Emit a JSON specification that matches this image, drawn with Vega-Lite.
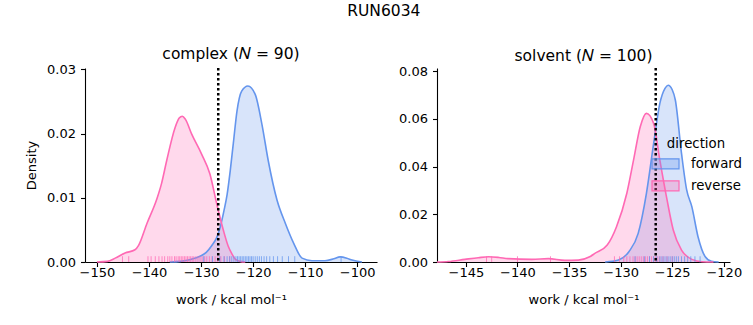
{
  "$schema": "https://vega.github.io/schema/vega-lite/v6.json",
  "padding": {"left": 25, "top": 4, "right": 0, "bottom": 0},
  "title": {"text": "RUN6034", "fontSize": 15.5, "fontWeight": "normal", "anchor": "middle", "color": "black", "offset": 27},
  "config": {
    "font": "DejaVu Sans",
    "view": {"stroke": null},
    "axis": {"grid": false, "domainColor": "black", "domainWidth": 1.1, "tickColor": "black", "tickWidth": 1.1, "labelColor": "black", "titleColor": "black", "labelFontSize": 13, "titleFontSize": 13, "titleFontWeight": "normal", "tickSize": 4.5},
    "axisX": {"labelPadding": 0, "titlePadding": 14},
    "axisY": {"labelPadding": 5, "titlePadding": 8},
    "title": {"fontSize": 15.5, "fontWeight": "normal", "color": "black", "offset": 1}
  },
  "datasets": {
    "curves": [
      {"panel": "complex", "direction": "forward", "work": -136, "density": 0},
      {"panel": "complex", "direction": "forward", "work": -134, "density": 0.0001},
      {"panel": "complex", "direction": "forward", "work": -132, "density": 0.0004},
      {"panel": "complex", "direction": "forward", "work": -130.2, "density": 0.0009},
      {"panel": "complex", "direction": "forward", "work": -129, "density": 0.0015},
      {"panel": "complex", "direction": "forward", "work": -128, "density": 0.0025},
      {"panel": "complex", "direction": "forward", "work": -127, "density": 0.0038},
      {"panel": "complex", "direction": "forward", "work": -126.3, "density": 0.0055},
      {"panel": "complex", "direction": "forward", "work": -125.6, "density": 0.008},
      {"panel": "complex", "direction": "forward", "work": -125, "density": 0.0105},
      {"panel": "complex", "direction": "forward", "work": -124.4, "density": 0.0142},
      {"panel": "complex", "direction": "forward", "work": -123.8, "density": 0.0185},
      {"panel": "complex", "direction": "forward", "work": -123.1, "density": 0.0235},
      {"panel": "complex", "direction": "forward", "work": -122.2, "density": 0.0266},
      {"panel": "complex", "direction": "forward", "work": -121, "density": 0.0274},
      {"panel": "complex", "direction": "forward", "work": -119.6, "density": 0.0261},
      {"panel": "complex", "direction": "forward", "work": -118.3, "density": 0.0214},
      {"panel": "complex", "direction": "forward", "work": -117.1, "density": 0.0158},
      {"panel": "complex", "direction": "forward", "work": -115.4, "density": 0.0096},
      {"panel": "complex", "direction": "forward", "work": -113.8, "density": 0.006},
      {"panel": "complex", "direction": "forward", "work": -112.2, "density": 0.0029},
      {"panel": "complex", "direction": "forward", "work": -110.6, "density": 0.0006},
      {"panel": "complex", "direction": "forward", "work": -108.7, "density": 0.0002},
      {"panel": "complex", "direction": "forward", "work": -106.2, "density": 0.0002},
      {"panel": "complex", "direction": "forward", "work": -104.5, "density": 0.0005},
      {"panel": "complex", "direction": "forward", "work": -103.3, "density": 0.0008},
      {"panel": "complex", "direction": "forward", "work": -102, "density": 0.0006},
      {"panel": "complex", "direction": "forward", "work": -101, "density": 0.0003},
      {"panel": "complex", "direction": "forward", "work": -99.1, "density": 0},
      {"panel": "complex", "direction": "reverse", "work": -150, "density": 0},
      {"panel": "complex", "direction": "reverse", "work": -148, "density": 0.0001},
      {"panel": "complex", "direction": "reverse", "work": -146.5, "density": 0.0006},
      {"panel": "complex", "direction": "reverse", "work": -144.6, "density": 0.0014},
      {"panel": "complex", "direction": "reverse", "work": -142.7, "density": 0.0019},
      {"panel": "complex", "direction": "reverse", "work": -142, "density": 0.0026},
      {"panel": "complex", "direction": "reverse", "work": -140.4, "density": 0.006},
      {"panel": "complex", "direction": "reverse", "work": -138.5, "density": 0.0098},
      {"panel": "complex", "direction": "reverse", "work": -137.6, "density": 0.0122},
      {"panel": "complex", "direction": "reverse", "work": -136.6, "density": 0.0158},
      {"panel": "complex", "direction": "reverse", "work": -135, "density": 0.0209},
      {"panel": "complex", "direction": "reverse", "work": -134.2, "density": 0.0224},
      {"panel": "complex", "direction": "reverse", "work": -133.6, "density": 0.0227},
      {"panel": "complex", "direction": "reverse", "work": -133, "density": 0.0222},
      {"panel": "complex", "direction": "reverse", "work": -131.8, "density": 0.0199},
      {"panel": "complex", "direction": "reverse", "work": -129.9, "density": 0.0168},
      {"panel": "complex", "direction": "reverse", "work": -128.3, "density": 0.0137},
      {"panel": "complex", "direction": "reverse", "work": -127, "density": 0.0091},
      {"panel": "complex", "direction": "reverse", "work": -125.7, "density": 0.0049},
      {"panel": "complex", "direction": "reverse", "work": -124.8, "density": 0.0025},
      {"panel": "complex", "direction": "reverse", "work": -124.1, "density": 0.0013},
      {"panel": "complex", "direction": "reverse", "work": -123.4, "density": 0.0004},
      {"panel": "complex", "direction": "reverse", "work": -122.5, "density": 0.0001},
      {"panel": "complex", "direction": "reverse", "work": -121.5, "density": 0},
      {"panel": "solvent", "direction": "forward", "work": -131.5, "density": 0},
      {"panel": "solvent", "direction": "forward", "work": -130.8, "density": 0.0003},
      {"panel": "solvent", "direction": "forward", "work": -130.2, "density": 0.0008},
      {"panel": "solvent", "direction": "forward", "work": -129.2, "density": 0.0043},
      {"panel": "solvent", "direction": "forward", "work": -128.3, "density": 0.012},
      {"panel": "solvent", "direction": "forward", "work": -127.5, "density": 0.0288},
      {"panel": "solvent", "direction": "forward", "work": -126.8, "density": 0.0497},
      {"panel": "solvent", "direction": "forward", "work": -126.2, "density": 0.0665},
      {"panel": "solvent", "direction": "forward", "work": -125.7, "density": 0.0728},
      {"panel": "solvent", "direction": "forward", "work": -125.4, "density": 0.0741},
      {"panel": "solvent", "direction": "forward", "work": -125, "density": 0.0722},
      {"panel": "solvent", "direction": "forward", "work": -124.7, "density": 0.0679},
      {"panel": "solvent", "direction": "forward", "work": -124.1, "density": 0.0455},
      {"panel": "solvent", "direction": "forward", "work": -123.6, "density": 0.0302},
      {"panel": "solvent", "direction": "forward", "work": -123.1, "density": 0.0232},
      {"panel": "solvent", "direction": "forward", "work": -122.5, "density": 0.0106},
      {"panel": "solvent", "direction": "forward", "work": -121.8, "density": 0.0022},
      {"panel": "solvent", "direction": "forward", "work": -121.2, "density": 0.0003},
      {"panel": "solvent", "direction": "forward", "work": -120.5, "density": 0},
      {"panel": "solvent", "direction": "reverse", "work": -147.8, "density": 0},
      {"panel": "solvent", "direction": "reverse", "work": -146.7, "density": 0.0002},
      {"panel": "solvent", "direction": "reverse", "work": -145.1, "density": 0.0011},
      {"panel": "solvent", "direction": "reverse", "work": -143.8, "density": 0.0018},
      {"panel": "solvent", "direction": "reverse", "work": -142.8, "density": 0.0022},
      {"panel": "solvent", "direction": "reverse", "work": -141.8, "density": 0.0019},
      {"panel": "solvent", "direction": "reverse", "work": -140.9, "density": 0.0014},
      {"panel": "solvent", "direction": "reverse", "work": -138.6, "density": 0.0011},
      {"panel": "solvent", "direction": "reverse", "work": -137, "density": 0.0014},
      {"panel": "solvent", "direction": "reverse", "work": -135.4, "density": 0.0007},
      {"panel": "solvent", "direction": "reverse", "work": -134.1, "density": 0.0008},
      {"panel": "solvent", "direction": "reverse", "work": -133, "density": 0.0022},
      {"panel": "solvent", "direction": "reverse", "work": -132.5, "density": 0.0036},
      {"panel": "solvent", "direction": "reverse", "work": -131.3, "density": 0.0071},
      {"panel": "solvent", "direction": "reverse", "work": -130.4, "density": 0.0148},
      {"panel": "solvent", "direction": "reverse", "work": -129.4, "density": 0.0288},
      {"panel": "solvent", "direction": "reverse", "work": -128.75, "density": 0.0427},
      {"panel": "solvent", "direction": "reverse", "work": -128.1, "density": 0.0567},
      {"panel": "solvent", "direction": "reverse", "work": -127.5, "density": 0.0623},
      {"panel": "solvent", "direction": "reverse", "work": -126.8, "density": 0.0581},
      {"panel": "solvent", "direction": "reverse", "work": -126.2, "density": 0.0427},
      {"panel": "solvent", "direction": "reverse", "work": -125.5, "density": 0.026},
      {"panel": "solvent", "direction": "reverse", "work": -124.9, "density": 0.0134},
      {"panel": "solvent", "direction": "reverse", "work": -124.1, "density": 0.005},
      {"panel": "solvent", "direction": "reverse", "work": -123.1, "density": 0.0011},
      {"panel": "solvent", "direction": "reverse", "work": -122.1, "density": 0.0001},
      {"panel": "solvent", "direction": "reverse", "work": -121, "density": 0}
    ],
    "rug": [
      {"panel": "complex", "direction": "reverse", "work": -145.1},
      {"panel": "complex", "direction": "reverse", "work": -143.9},
      {"panel": "complex", "direction": "reverse", "work": -140.2},
      {"panel": "complex", "direction": "reverse", "work": -139.6},
      {"panel": "complex", "direction": "reverse", "work": -138.8},
      {"panel": "complex", "direction": "reverse", "work": -138.1},
      {"panel": "complex", "direction": "reverse", "work": -137.5},
      {"panel": "complex", "direction": "reverse", "work": -137.0},
      {"panel": "complex", "direction": "reverse", "work": -136.4},
      {"panel": "complex", "direction": "reverse", "work": -136.0},
      {"panel": "complex", "direction": "reverse", "work": -135.6},
      {"panel": "complex", "direction": "reverse", "work": -135.1},
      {"panel": "complex", "direction": "reverse", "work": -134.8},
      {"panel": "complex", "direction": "reverse", "work": -134.4},
      {"panel": "complex", "direction": "reverse", "work": -134.1},
      {"panel": "complex", "direction": "reverse", "work": -133.8},
      {"panel": "complex", "direction": "reverse", "work": -133.5},
      {"panel": "complex", "direction": "reverse", "work": -133.2},
      {"panel": "complex", "direction": "reverse", "work": -132.9},
      {"panel": "complex", "direction": "reverse", "work": -132.6},
      {"panel": "complex", "direction": "reverse", "work": -132.3},
      {"panel": "complex", "direction": "reverse", "work": -132.0},
      {"panel": "complex", "direction": "reverse", "work": -131.7},
      {"panel": "complex", "direction": "reverse", "work": -131.4},
      {"panel": "complex", "direction": "reverse", "work": -131.0},
      {"panel": "complex", "direction": "reverse", "work": -130.6},
      {"panel": "complex", "direction": "reverse", "work": -130.2},
      {"panel": "complex", "direction": "reverse", "work": -129.8},
      {"panel": "complex", "direction": "reverse", "work": -129.3},
      {"panel": "complex", "direction": "reverse", "work": -128.9},
      {"panel": "complex", "direction": "reverse", "work": -128.4},
      {"panel": "complex", "direction": "reverse", "work": -127.9},
      {"panel": "complex", "direction": "reverse", "work": -127.3},
      {"panel": "complex", "direction": "reverse", "work": -126.8},
      {"panel": "complex", "direction": "reverse", "work": -126.2},
      {"panel": "complex", "direction": "reverse", "work": -125.5},
      {"panel": "complex", "direction": "reverse", "work": -124.5},
      {"panel": "complex", "direction": "forward", "work": -129.5},
      {"panel": "complex", "direction": "forward", "work": -127.8},
      {"panel": "complex", "direction": "forward", "work": -126.4},
      {"panel": "complex", "direction": "forward", "work": -125.6},
      {"panel": "complex", "direction": "forward", "work": -125.0},
      {"panel": "complex", "direction": "forward", "work": -124.5},
      {"panel": "complex", "direction": "forward", "work": -124.1},
      {"panel": "complex", "direction": "forward", "work": -123.7},
      {"panel": "complex", "direction": "forward", "work": -123.3},
      {"panel": "complex", "direction": "forward", "work": -123.0},
      {"panel": "complex", "direction": "forward", "work": -122.7},
      {"panel": "complex", "direction": "forward", "work": -122.4},
      {"panel": "complex", "direction": "forward", "work": -122.1},
      {"panel": "complex", "direction": "forward", "work": -121.8},
      {"panel": "complex", "direction": "forward", "work": -121.5},
      {"panel": "complex", "direction": "forward", "work": -121.2},
      {"panel": "complex", "direction": "forward", "work": -120.9},
      {"panel": "complex", "direction": "forward", "work": -120.6},
      {"panel": "complex", "direction": "forward", "work": -120.3},
      {"panel": "complex", "direction": "forward", "work": -120.0},
      {"panel": "complex", "direction": "forward", "work": -119.6},
      {"panel": "complex", "direction": "forward", "work": -119.2},
      {"panel": "complex", "direction": "forward", "work": -118.8},
      {"panel": "complex", "direction": "forward", "work": -118.4},
      {"panel": "complex", "direction": "forward", "work": -117.9},
      {"panel": "complex", "direction": "forward", "work": -117.4},
      {"panel": "complex", "direction": "forward", "work": -116.8},
      {"panel": "complex", "direction": "forward", "work": -116.1},
      {"panel": "complex", "direction": "forward", "work": -115.3},
      {"panel": "complex", "direction": "forward", "work": -114.4},
      {"panel": "complex", "direction": "forward", "work": -113.2},
      {"panel": "complex", "direction": "forward", "work": -112.0},
      {"panel": "complex", "direction": "forward", "work": -103.1},
      {"panel": "solvent", "direction": "reverse", "work": -143.0},
      {"panel": "solvent", "direction": "reverse", "work": -142.5},
      {"panel": "solvent", "direction": "reverse", "work": -140.0},
      {"panel": "solvent", "direction": "reverse", "work": -136.8},
      {"panel": "solvent", "direction": "reverse", "work": -130.6},
      {"panel": "solvent", "direction": "reverse", "work": -130.1},
      {"panel": "solvent", "direction": "reverse", "work": -129.7},
      {"panel": "solvent", "direction": "reverse", "work": -129.4},
      {"panel": "solvent", "direction": "reverse", "work": -129.1},
      {"panel": "solvent", "direction": "reverse", "work": -128.8},
      {"panel": "solvent", "direction": "reverse", "work": -128.6},
      {"panel": "solvent", "direction": "reverse", "work": -128.4},
      {"panel": "solvent", "direction": "reverse", "work": -128.2},
      {"panel": "solvent", "direction": "reverse", "work": -128.0},
      {"panel": "solvent", "direction": "reverse", "work": -127.8},
      {"panel": "solvent", "direction": "reverse", "work": -127.6},
      {"panel": "solvent", "direction": "reverse", "work": -127.4},
      {"panel": "solvent", "direction": "reverse", "work": -127.2},
      {"panel": "solvent", "direction": "reverse", "work": -127.0},
      {"panel": "solvent", "direction": "reverse", "work": -126.8},
      {"panel": "solvent", "direction": "reverse", "work": -126.6},
      {"panel": "solvent", "direction": "reverse", "work": -126.4},
      {"panel": "solvent", "direction": "reverse", "work": -126.2},
      {"panel": "solvent", "direction": "reverse", "work": -125.9},
      {"panel": "solvent", "direction": "reverse", "work": -125.5},
      {"panel": "solvent", "direction": "reverse", "work": -125.0},
      {"panel": "solvent", "direction": "forward", "work": -128.6},
      {"panel": "solvent", "direction": "forward", "work": -127.7},
      {"panel": "solvent", "direction": "forward", "work": -127.2},
      {"panel": "solvent", "direction": "forward", "work": -126.8},
      {"panel": "solvent", "direction": "forward", "work": -126.5},
      {"panel": "solvent", "direction": "forward", "work": -126.2},
      {"panel": "solvent", "direction": "forward", "work": -126.0},
      {"panel": "solvent", "direction": "forward", "work": -125.8},
      {"panel": "solvent", "direction": "forward", "work": -125.6},
      {"panel": "solvent", "direction": "forward", "work": -125.4},
      {"panel": "solvent", "direction": "forward", "work": -125.2},
      {"panel": "solvent", "direction": "forward", "work": -125.0},
      {"panel": "solvent", "direction": "forward", "work": -124.8},
      {"panel": "solvent", "direction": "forward", "work": -124.6},
      {"panel": "solvent", "direction": "forward", "work": -124.4},
      {"panel": "solvent", "direction": "forward", "work": -124.1},
      {"panel": "solvent", "direction": "forward", "work": -123.8},
      {"panel": "solvent", "direction": "forward", "work": -123.5},
      {"panel": "solvent", "direction": "forward", "work": -123.2},
      {"panel": "solvent", "direction": "forward", "work": -122.8},
      {"panel": "solvent", "direction": "forward", "work": -122.3}
    ],
    "means": [
      {"panel": "complex", "work": -126.7},
      {"panel": "solvent", "work": -126.6}
    ]
  },
  "resolve": {"legend": {"color": "independent"}},
  "spacing": 21,
  "hconcat": [
    {
      "width": 292,
      "height": 194,
      "title": {"text": "complex (𝑁 = 90)"},
      "layer": [
        {
          "data": {"name": "curves"},
          "transform": [{"filter": "datum.panel === 'complex'"}],
          "mark": {"type": "area", "fillOpacity": 0.25, "interpolate": "monotone", "line": {"strokeWidth": 1.6}},
          "encoding": {
            "x": {"field": "work", "type": "quantitative", "scale": {"domain": [-152.3, -96.2], "nice": false, "zero": false}, "axis": {"values": [-150, -140, -130, -120, -110, -100], "title": "work / kcal mol⁻¹"}},
            "y": {"field": "density", "type": "quantitative", "stack": null, "scale": {"domain": [0, 0.0302], "nice": false}, "axis": {"values": [0, 0.01, 0.02, 0.03], "format": ".2f", "title": "Density"}},
            "color": {"field": "direction", "type": "nominal", "scale": {"domain": ["forward", "reverse"], "range": ["#6495ED", "#FF69B4"]}, "legend": null}
          }
        },
        {
          "data": {"name": "rug"},
          "transform": [{"filter": "datum.panel === 'complex'"}],
          "mark": {"type": "rule", "strokeWidth": 1, "opacity": 0.75},
          "encoding": {
            "x": {"field": "work", "type": "quantitative"},
            "y": {"datum": 0},
            "y2": {"datum": 0.0009},
            "color": {"field": "direction", "type": "nominal", "legend": null}
          }
        },
        {
          "data": {"name": "means"},
          "transform": [{"filter": "datum.panel === 'complex'"}],
          "mark": {"type": "rule", "strokeDash": [2.5, 2.5], "strokeWidth": 2.5, "color": "black"},
          "encoding": {"x": {"field": "work", "type": "quantitative"}}
        }
      ]
    },
    {
      "width": 293,
      "height": 194,
      "title": {"text": "solvent (𝑁 = 100)"},
      "layer": [
        {
          "data": {"name": "curves"},
          "transform": [{"filter": "datum.panel === 'solvent'"}],
          "mark": {"type": "area", "fillOpacity": 0.25, "interpolate": "monotone", "line": {"strokeWidth": 1.6}},
          "encoding": {
            "x": {"field": "work", "type": "quantitative", "scale": {"domain": [-147.8, -119.4], "nice": false, "zero": false}, "axis": {"values": [-145, -140, -135, -130, -125, -120], "title": "work / kcal mol⁻¹"}},
            "y": {"field": "density", "type": "quantitative", "stack": null, "scale": {"domain": [0, 0.0813], "nice": false}, "axis": {"values": [0, 0.02, 0.04, 0.06, 0.08], "format": ".2f", "title": null}},
            "color": {"field": "direction", "type": "nominal", "scale": {"domain": ["forward", "reverse"], "range": ["#6495ED", "#FF69B4"]},
              "legend": {"orient": "none", "legendX": 214, "legendY": 69, "title": "direction", "titleFontSize": 13.3, "titleFontWeight": "normal", "titleColor": "black", "titleAnchor": "middle", "titlePadding": -1, "labelFontSize": 13.3, "labelColor": "black", "labelOffset": 11, "symbolType": "M-1,-0.37H1V0.37H-1Z", "symbolSize": 729, "symbolStrokeWidth": 1.2, "rowPadding": -1,
                "encode": {"symbols": {"update": {"fillOpacity": {"value": 0.3}, "strokeOpacity": {"value": 1}, "stroke": {"scale": "color", "field": "value"}}}}}}
          }
        },
        {
          "data": {"name": "rug"},
          "transform": [{"filter": "datum.panel === 'solvent'"}],
          "mark": {"type": "rule", "strokeWidth": 1, "opacity": 0.75},
          "encoding": {
            "x": {"field": "work", "type": "quantitative"},
            "y": {"datum": 0},
            "y2": {"datum": 0.0024},
            "color": {"field": "direction", "type": "nominal"}
          }
        },
        {
          "data": {"name": "means"},
          "transform": [{"filter": "datum.panel === 'solvent'"}],
          "mark": {"type": "rule", "strokeDash": [2.5, 2.5], "strokeWidth": 2.5, "color": "black"},
          "encoding": {"x": {"field": "work", "type": "quantitative"}}
        }
      ]
    }
  ]
}
